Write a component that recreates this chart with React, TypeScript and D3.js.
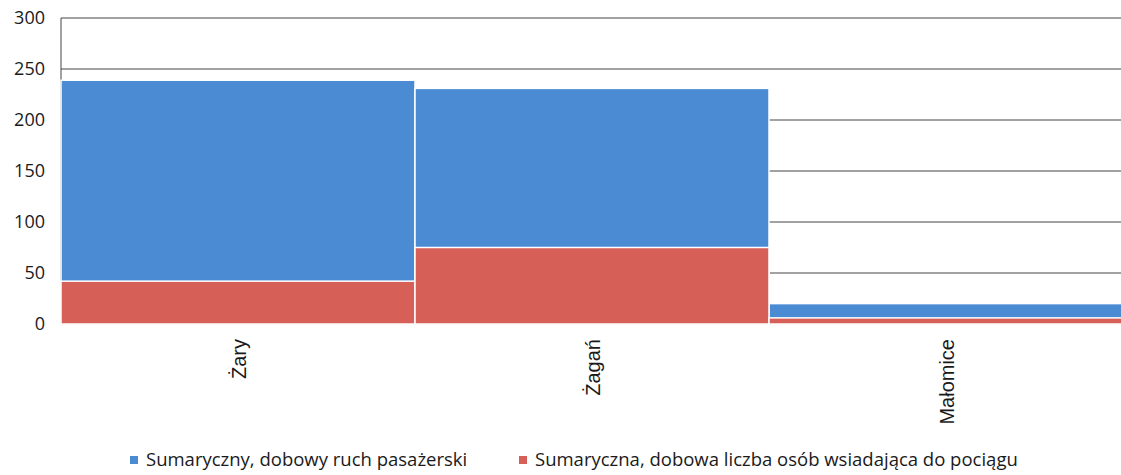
import React, { useEffect, useRef } from 'react';
import * as d3 from 'd3';

const categories = ['Żary', 'Żagań', 'Małomice'];
const totalTraffic = [239, 231, 20];
const boarding = [42, 75, 6];
const yTicks = [0, 50, 100, 150, 200, 250, 300];
const seriesNames = [
  'Sumaryczny, dobowy ruch pasażerski',
  'Sumaryczna, dobowa liczba osób wsiadająca do pociągu',
];
const colors = ['#4a8bd4', '#d65f58'];

const App = () => {
  const svgRef = useRef<SVGSVGElement | null>(null);

  useEffect(() => {
    const width = 1121;
    const height = 475;
    const margin = { top: 18, right: -2, bottom: 151, left: 61 };
    const innerW = width - margin.left - margin.right;
    const innerH = height - margin.top - margin.bottom;

    const svg = d3.select(svgRef.current);
    svg.selectAll('*').remove();
    svg.attr('width', width).attr('height', height);

    const g = svg.append('g').attr('transform', `translate(${margin.left},${margin.top})`);

    const x = d3.scaleBand().domain(categories).range([0, innerW]).padding(0);
    const y = d3.scaleLinear().domain([0, 300]).range([innerH, 0]);

    // gridlines
    g.selectAll('line.grid')
      .data(yTicks)
      .enter()
      .append('line')
      .attr('x1', 0)
      .attr('x2', innerW)
      .attr('y1', d => y(d))
      .attr('y2', d => y(d))
      .attr('stroke', '#444')
      .attr('stroke-width', 1);

    g.append('line')
      .attr('x1', 0).attr('x2', 0)
      .attr('y1', 0).attr('y2', innerH)
      .attr('stroke', '#444');

    // overlapped bars
    [totalTraffic, boarding].forEach((vals, si) => {
      g.selectAll(`rect.s${si}`)
        .data(vals)
        .enter()
        .append('rect')
        .attr('x', (_, i) => x(categories[i])!)
        .attr('y', d => y(d))
        .attr('width', x.bandwidth())
        .attr('height', d => innerH - y(d))
        .attr('fill', colors[si])
        .attr('stroke', '#fff')
        .attr('stroke-width', 1.5);
    });

    // y labels
    g.selectAll('text.ytick')
      .data(yTicks)
      .enter()
      .append('text')
      .attr('x', -16)
      .attr('y', d => y(d))
      .attr('dy', '0.35em')
      .attr('text-anchor', 'end')
      .style('font-family', 'Open Sans, sans-serif')
      .style('font-size', '18px')
      .style('fill', '#1a1a1a')
      .text(d => d);

    // x labels
    g.selectAll('text.xtick')
      .data(categories)
      .enter()
      .append('text')
      .attr('transform', d => `translate(${x(d)! + x.bandwidth() / 2 + 1},${innerH + 15}) rotate(-90)`)
      .attr('dy', '0.35em')
      .attr('text-anchor', 'end')
      .style('font-family', 'Liberation Sans, Arial, sans-serif')
      .style('font-size', '20px')
      .style('fill', '#1a1a1a')
      .text(d => d);

    // legend
    const legendX = [130, 519];
    seriesNames.forEach((name, i) => {
      const lg = svg.append('g').attr('transform', `translate(${legendX[i]},460)`);
      lg.append('rect').attr('x', 0).attr('y', -4).attr('width', 8).attr('height', 8).attr('fill', colors[i]);
      lg.append('text')
        .attr('x', 16)
        .attr('y', 0)
        .attr('dy', '0.35em')
        .style('font-family', 'Open Sans, sans-serif')
        .style('font-size', '18.5px')
        .style('fill', '#1a1a1a')
        .text(name);
    });
  }, []);

  return (
    <div style={{ position: 'absolute', left: 0, top: 0, width: 1121, height: 475, overflow: 'hidden', background: '#fff' }}>
      <svg ref={svgRef} style={{ display: 'block' }}></svg>
    </div>
  );
};

export default App;
